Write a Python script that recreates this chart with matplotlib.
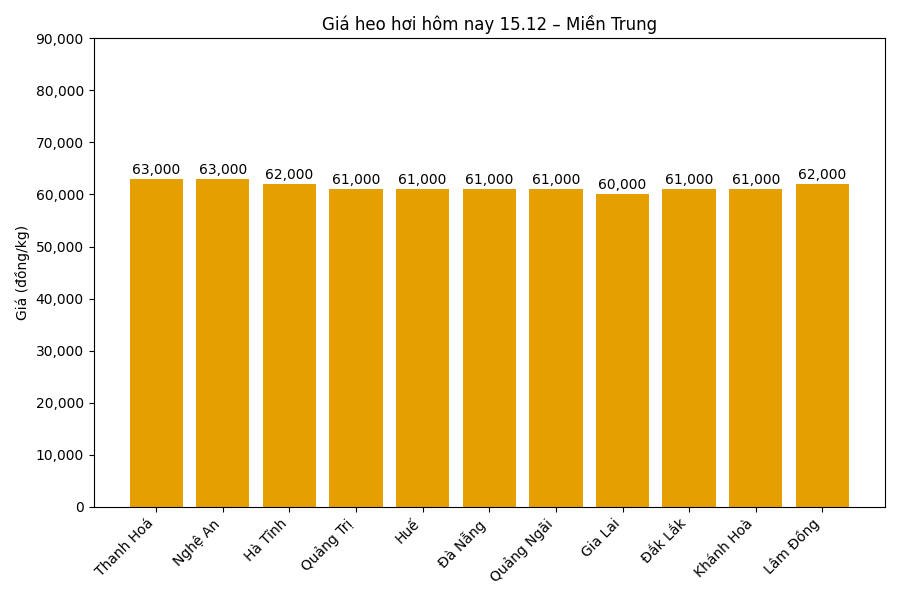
import matplotlib
matplotlib.use("Agg")
import matplotlib.pyplot as plt
from matplotlib.ticker import FuncFormatter

provinces = ["Thanh Hoá", "Nghệ An", "Hà Tĩnh", "Quảng Trị", "Huế", "Đà Nẵng",
             "Quảng Ngãi", "Gia Lai", "Đắk Lắk", "Khánh Hoà", "Lâm Đồng"]
prices = [63000, 63000, 62000, 61000, 61000, 61000, 61000, 60000, 61000, 61000, 62000]

fig, ax = plt.subplots(figsize=(9, 6), dpi=100)
bars = ax.bar(provinces, prices, color="#E69F00")
for b, v in zip(bars, prices):
    ax.text(b.get_x() + b.get_width() / 2, v + 400, f"{v:,}", ha="center", va="bottom")
ax.set_ylim(0, 90000)
ax.yaxis.set_major_formatter(FuncFormatter(lambda x, _: f"{int(x):,}"))
ax.set_ylabel("Giá (đồng/kg)")
ax.set_title("Giá heo hơi hôm nay 15.12 – Miền Trung")
plt.setp(ax.get_xticklabels(), rotation=45, ha="right")
fig.tight_layout()
fig.savefig("out.png")
